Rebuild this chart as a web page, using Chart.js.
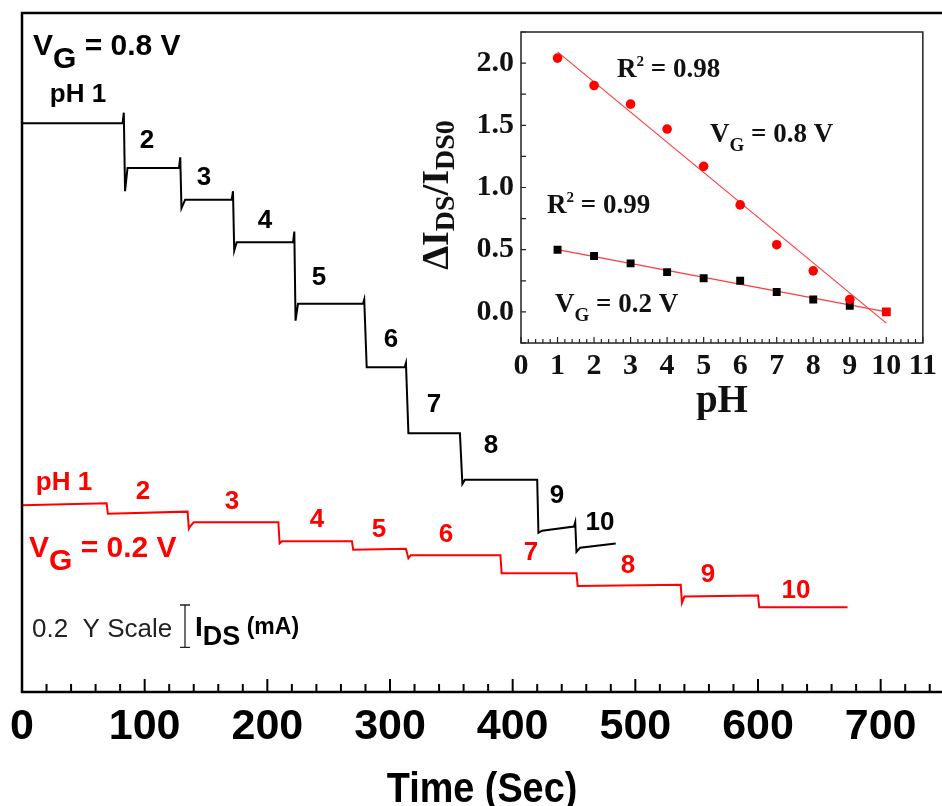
<!DOCTYPE html>
<html>
<head>
<meta charset="utf-8">
<title>I_DS vs time at different pH</title>
<script src="https://cdn.jsdelivr.net/npm/chart.js@4.4.0/dist/chart.umd.min.js"></script>
<style>
  html, body { margin: 0; padding: 0; background: #fff; }
  #wrap { position: relative; width: 942px; height: 806px; overflow: hidden; }
  #mainChart { position: absolute; left: 0; top: 0; width: 942px; height: 806px; }
  #insetChart { position: absolute; left: 400px; top: 0; width: 542px; height: 420px; }
</style>
</head>
<body>
<div id="wrap">
  <canvas id="mainChart" width="942" height="806"></canvas>
  <canvas id="insetChart" width="542" height="420"></canvas>
</div>
<script>
// Main panel: drain current (mA, arbitrary offset) against time, pH stepped 1 -> 10
const timeBlack = [0, 82, 83, 84, 86, 128, 129, 130, 133, 171, 172, 173, 175, 221, 222, 223, 225,
  278, 279, 281, 312, 313, 315, 357, 359, 361, 420, 421, 424, 450, 451, 452, 455, 484];
const currentBlack = [2.68, 2.68, 2.73, 2.36, 2.47, 2.47, 2.52, 2.28, 2.32, 2.32, 2.36, 2.08, 2.12, 2.12, 2.17, 1.75, 1.83,
  1.83, 1.85, 1.53, 1.53, 1.55, 1.22, 1.22, 0.98, 1.00, 1.00, 0.75, 0.76, 0.78, 0.80, 0.66, 0.68, 0.70];

const timeRed = [0, 69, 70, 135, 136, 137, 140, 209, 210, 212, 269, 270, 313, 315, 317,
  390, 391, 452, 453, 537, 538, 540, 600, 601, 673];
const currentRed = [0.88, 0.89, 0.84, 0.85, 0.77, 0.78, 0.80, 0.80, 0.70, 0.71, 0.71, 0.67, 0.675, 0.63, 0.645,
  0.645, 0.56, 0.56, 0.50, 0.505, 0.42, 0.45, 0.455, 0.40, 0.40];

const stepLabels = ['pH 1', '2', '3', '4', '5', '6', '7', '8', '9', '10'];
const scaleBarBase = 0.21;   // mA
const scaleBarSize = 0.2;    // mA

// Inset: normalised current change against pH
const insetPH = [1, 2, 3, 4, 5, 6, 7, 8, 9, 10];
const ratioHigh = [2.04, 1.82, 1.67, 1.47, 1.17, 0.86, 0.54, 0.33, 0.10, 0.00];   // V_G = 0.8 V
const ratioLow = [0.50, 0.45, 0.39, 0.32, 0.27, 0.25, 0.16, 0.10, 0.05, 0.00];    // V_G = 0.2 V
const fitPH = [1, 10];
const fitHigh = [2.09, -0.09];
const fitLow = [0.50, 0.00];

const SANS = "'Liberation Sans', Arial, sans-serif";
const SERIF = "'Liberation Serif', 'Times New Roman', serif";
const RED = '#ff0000';

function toPoints(xs, ys) {
  return xs.map((x, i) => ({ x: x, y: ys[i] }));
}

// draws a run of text pieces [text, font, dy] one after the other
function drawRun(ctx, x, y, parts, color) {
  ctx.fillStyle = color;
  ctx.textAlign = 'left';
  ctx.textBaseline = 'alphabetic';
  parts.forEach(p => {
    ctx.font = p[1];
    ctx.fillText(p[0], x, y + (p[2] || 0));
    x += ctx.measureText(p[0]).width;
  });
}
function runWidth(ctx, parts) {
  let w = 0;
  parts.forEach(p => { ctx.font = p[1]; w += ctx.measureText(p[0]).width; });
  return w;
}

const big = 'bold 30px ' + SANS;
const lab = 'bold 26px ' + SANS;

// label anchors (page pixels: centre x, baseline y)
const blackLabelPos = [[78, 102], [147, 148], [204, 185], [265, 228], [319, 285], [391, 347], [434, 412], [491, 453], [557, 503], [600, 530]];
const redLabelPos = [[64, 490], [143, 499], [232, 509], [317, 527], [379, 537], [446, 542], [531, 560], [628, 573], [708, 582], [796, 598]];

const mainDecor = {
  id: 'mainDecor',
  afterDraw(chart) {
    const ctx = chart.ctx, a = chart.chartArea;
    const xs = chart.scales.x, ys = chart.scales.y;
    ctx.save();
    // frame: left, top and bottom
    ctx.strokeStyle = '#000';
    ctx.lineWidth = 2.5;
    ctx.beginPath();
    ctx.moveTo(a.right + 2, a.top);
    ctx.lineTo(a.left, a.top);
    ctx.lineTo(a.left, a.bottom);
    ctx.lineTo(a.right + 2, a.bottom);
    ctx.stroke();
    // inward ticks every 20 s
    ctx.lineWidth = 2;
    for (let t = 0; t <= xs.max; t += 20) {
      const px = xs.getPixelForValue(t);
      const len = t % 100 === 0 ? 13 : 8;
      ctx.beginPath();
      ctx.moveTo(px, a.bottom);
      ctx.lineTo(px, a.bottom - len);
      ctx.stroke();
    }
    // axis title
    ctx.save();
    ctx.translate((a.left + a.right) / 2, 802);
    ctx.scale(0.9, 1);
    ctx.font = 'bold 42px ' + SANS;
    ctx.fillStyle = '#000';
    ctx.textAlign = 'center';
    ctx.fillText('Time (Sec)', 0, 0);
    ctx.restore();

    // gate voltage labels
    drawRun(ctx, 33, 55, [['V', big], ['G', big, 13], [' = 0.8 V', big]], '#000');
    drawRun(ctx, 29, 557, [['V', big], ['G', big, 13], [' = 0.2 V', big]], RED);

    // pH step labels
    ctx.textAlign = 'center';
    ctx.font = lab;
    stepLabels.forEach((s, i) => {
      ctx.fillStyle = '#000';
      ctx.fillText(s, blackLabelPos[i][0], blackLabelPos[i][1]);
      ctx.fillStyle = RED;
      ctx.fillText(s, redLabelPos[i][0], redLabelPos[i][1]);
    });

    // scale bar
    drawRun(ctx, 32, 637, [['0.2  Y Scale', '26px ' + SANS]], '#222');
    const y0 = ys.getPixelForValue(scaleBarBase);
    const y1 = ys.getPixelForValue(scaleBarBase + scaleBarSize);
    const bx = 185;
    ctx.strokeStyle = '#222';
    ctx.lineWidth = 1.3;
    ctx.beginPath();
    ctx.moveTo(bx, y0); ctx.lineTo(bx, y1);
    ctx.moveTo(bx - 5, y0); ctx.lineTo(bx + 5, y0);
    ctx.moveTo(bx - 5, y1); ctx.lineTo(bx + 5, y1);
    ctx.stroke();
    drawRun(ctx, 195, 636, [['I', 'bold 28px ' + SANS], ['DS', 'bold 27px ' + SANS, 9], [' (mA)', 'bold 23px ' + SANS, -2]], '#000');
    ctx.restore();
  }
};

new Chart(document.getElementById('mainChart'), {
  type: 'line',
  data: {
    datasets: [
      {
        label: 'V_G = 0.8 V',
        data: toPoints(timeBlack, currentBlack),
        borderColor: '#000',
        borderWidth: 2,
        pointRadius: 0,
        tension: 0
      },
      {
        label: 'V_G = 0.2 V',
        data: toPoints(timeRed, currentRed),
        borderColor: RED,
        borderWidth: 2,
        pointRadius: 0,
        tension: 0
      }
    ]
  },
  options: {
    responsive: false,
    animation: false,
    layout: { padding: { top: 13, left: 22, right: 0, bottom: 0 } },
    plugins: { legend: { display: false }, tooltip: { enabled: false } },
    scales: {
      x: {
        type: 'linear',
        min: 0,
        max: 750,
        grid: { display: false, drawTicks: false },
        border: { display: false },
        ticks: {
          stepSize: 100,
          includeBounds: false,
          maxRotation: 0,
          autoSkip: false,
          padding: 9,
          color: '#000',
          font: { family: SANS, size: 43, weight: 'bold' }
        },
        afterFit: s => { s.height = 114; }
      },
      y: {
        type: 'linear',
        display: false,
        min: 0,
        max: 3.2
      }
    }
  },
  plugins: [mainDecor]
});

// ---------- inset ----------
const OX = 400;   // inset canvas offset on the page
const sb = 'bold 27px ' + SERIF;
const ss = 'bold 19px ' + SERIF;
const sup = 'bold 15px ' + SERIF;

const insetDecor = {
  id: 'insetDecor',
  afterDraw(chart) {
    const ctx = chart.ctx, a = chart.chartArea;
    const xs = chart.scales.x, ys = chart.scales.y;
    ctx.save();
    ctx.strokeStyle = '#222';
    ctx.lineWidth = 1.5;
    ctx.strokeRect(a.left, a.top, a.right - a.left, a.bottom - a.top);
    ctx.lineWidth = 1.2;
    ctx.beginPath();
    for (let i = 0; i <= 55; i++) {
      const v = i / 5;
      const px = xs.getPixelForValue(v);
      const len = i % 5 === 0 ? 6 : 4;
      ctx.moveTo(px, a.bottom);
      ctx.lineTo(px, a.bottom - len);
    }
    ys.ticks.forEach(t => {
      const py = ys.getPixelForValue(t.value);
      ctx.moveTo(a.left, py);
      ctx.lineTo(a.left + 5, py);
    });
    ctx.stroke();

    // axis titles
    ctx.fillStyle = '#111';
    ctx.font = 'bold 39px ' + SERIF;
    ctx.textAlign = 'center';
    ctx.fillText('pH', (a.left + a.right) / 2, 412);

    const yt = [['\u0394I', 'bold 38px ' + SERIF], ['DS', 'bold 28px ' + SERIF, 6], ['/I', 'bold 38px ' + SERIF], ['DS0', 'bold 28px ' + SERIF, 6]];
    const w = runWidth(ctx, yt);
    ctx.save();
    ctx.translate(448 - OX, 195 + w / 2);
    ctx.rotate(-Math.PI / 2);
    drawRun(ctx, 0, 0, yt, '#111');
    ctx.restore();

    // fit annotations
    drawRun(ctx, 617 - OX, 77, [['R', sb], ['2', sup, -11], [' = 0.98', sb]], '#111');
    drawRun(ctx, 710 - OX, 142, [['V', sb], ['G', ss, 9], [' = 0.8 V', sb]], '#111');
    drawRun(ctx, 547 - OX, 213, [['R', sb], ['2', sup, -11], [' = 0.99', sb]], '#111');
    drawRun(ctx, 555 - OX, 312, [['V', sb], ['G', ss, 9], [' = 0.2 V', sb]], '#111');
    ctx.restore();
  }
};

new Chart(document.getElementById('insetChart'), {
  type: 'scatter',
  data: {
    datasets: [
      {
        label: 'V_G = 0.8 V',
        data: toPoints(insetPH, ratioHigh),
        backgroundColor: RED,
        borderWidth: 0,
        pointStyle: ['circle', 'circle', 'circle', 'circle', 'circle', 'circle', 'circle', 'circle', 'circle', 'rect'],
        pointRadius: [4.8, 4.8, 4.8, 4.8, 4.8, 4.8, 4.8, 4.8, 4.8, 6.2],
        order: 0
      },
      {
        label: 'V_G = 0.2 V',
        data: toPoints(insetPH, ratioLow),
        backgroundColor: '#000',
        borderWidth: 0,
        pointStyle: 'rect',
        pointRadius: 5.6,
        order: 1
      },
      {
        label: 'fit 0.8 V',
        data: toPoints(fitPH, fitHigh),
        showLine: true,
        borderColor: '#ff3b3b',
        borderWidth: 1.2,
        pointRadius: 0,
        order: 2
      },
      {
        label: 'fit 0.2 V',
        data: toPoints(fitPH, fitLow),
        showLine: true,
        borderColor: '#ff3b3b',
        borderWidth: 1.2,
        pointRadius: 0,
        order: 2
      }
    ]
  },
  options: {
    responsive: false,
    animation: false,
    layout: { padding: { top: 32, left: 0, right: 19, bottom: 0 } },
    plugins: { legend: { display: false }, tooltip: { enabled: false } },
    scales: {
      x: {
        type: 'linear',
        min: 0,
        max: 11,
        grid: { display: false, drawTicks: false },
        border: { display: false },
        ticks: {
          stepSize: 1,
          autoSkip: false,
          maxRotation: 0,
          padding: 5,
          color: '#111',
          font: { family: SERIF, size: 30, weight: 'bold' }
        },
        afterFit: s => { s.height = 77; }
      },
      y: {
        type: 'linear',
        min: -0.25,
        max: 2.25,
        grid: { display: false, drawTicks: false },
        border: { display: false },
        ticks: {
          stepSize: 0.25,
          autoSkip: false,
          padding: 7,
          color: '#111',
          font: { family: SERIF, size: 30, weight: 'bold' },
          callback: v => (Math.abs(v * 2 - Math.round(v * 2)) < 1e-6 ? v.toFixed(1) : '')
        },
        afterFit: s => { s.width = 121; }
      }
    }
  },
  plugins: [insetDecor]
});
</script>
</body>
</html>
